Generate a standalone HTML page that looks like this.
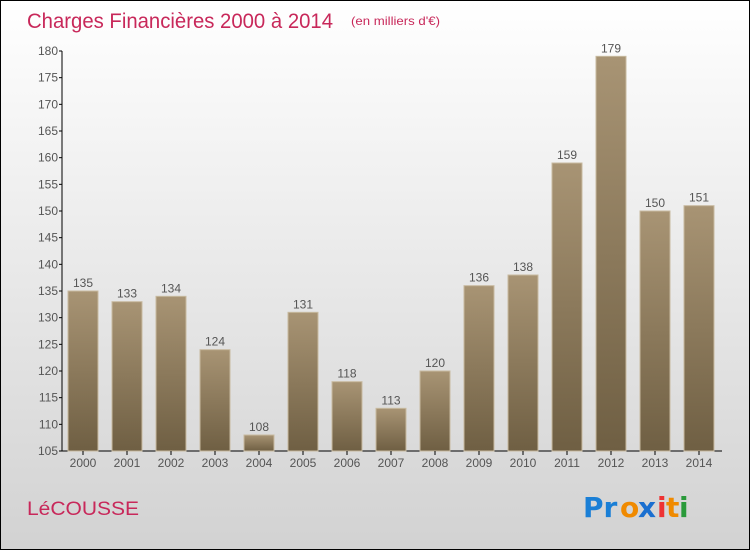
<!DOCTYPE html>
<html><head><meta charset="utf-8"><style>
body{margin:0}
#c{width:748px;height:548px;border:1px solid #000;position:relative;background:linear-gradient(#fff,#d2d2d2);font-family:"Liberation Sans",sans-serif;overflow:hidden}
</style></head><body>
<div id="c">
<svg width="748" height="548">
<defs><linearGradient id="bg" x1="0" y1="0" x2="0" y2="1"><stop offset="0" stop-color="#a89474"/><stop offset="1" stop-color="#6f5f43"/></linearGradient></defs>
<text x="26" y="27" font-size="21" fill="#c8285a" textLength="306" lengthAdjust="spacingAndGlyphs">Charges Financières 2000 à 2014</text>
<text x="350" y="24" font-size="12" fill="#c8285a" textLength="89" lengthAdjust="spacingAndGlyphs">(en milliers d'€)</text>
<text x="26" y="514" font-size="19" fill="#c8285a" textLength="112" lengthAdjust="spacingAndGlyphs">LéCOUSSE</text>
<g font-size="28" font-weight="bold" font-family="'DejaVu Sans',sans-serif">
<text x="582" y="516" fill="#1a7fd6">Pr</text><text x="619" y="516" fill="#f08a00">o</text><text x="637" y="516" fill="#1a6fd0">x</text><text x="656" y="516" fill="#e33">i</text><text x="665" y="516" fill="#f08a00">t</text><text x="678" y="516" fill="#2a9a3a">i</text>
</g>
<g id="plot"></g>
</svg></div>
<script>
const years=["2000","2001","2002","2003","2004","2005","2006","2007","2008","2009","2010","2011","2012","2013","2014"];
const values=[135,133,134,124,108,131,118,113,120,136,138,159,179,150,151];
const yTicks=[105,110,115,120,125,130,135,140,145,150,155,160,165,170,175,180];
const NS="http://www.w3.org/2000/svg";
const g=document.getElementById('plot');
const y=v=>450-(v-105)*400/75;
const x=i=>67+i*44;
function mk(t,a){const e=document.createElementNS(NS,t);for(const k in a)e.setAttribute(k,a[k]);g.appendChild(e);return e;}
const ax=mk('path',{d:'M61,50V450H721',stroke:'#000',fill:'none'});


yTicks.forEach(v=>{
 const l=mk('line',{x1:58,x2:61,y1:y(v),y2:y(v),stroke:'#000'});
 
 
 const t=mk('text',{x:57,y:y(v)+4,'font-size':12,fill:'#555','text-anchor':'end'});t.textContent=v;
 
 
});
values.forEach((v,i)=>{
 const r=mk('rect',{x:x(i),y:y(v),width:30,height:450-y(v),fill:'url(#bg)',stroke:'#c8baa0','stroke-width':1});
 
 
 const t=mk('text',{x:x(i)+15,y:y(v)-4,'font-size':12,fill:'#555','text-anchor':'middle'});t.textContent=v;
 
 
 const tk=mk('line',{x1:x(i)+15,x2:x(i)+15,y1:450,y2:454,stroke:'#000'});
 
 
 const xl=mk('text',{x:x(i)+15,y:466,'font-size':12,fill:'#555','text-anchor':'middle'});xl.textContent=years[i];
 
 
});
</script>
</body></html>
